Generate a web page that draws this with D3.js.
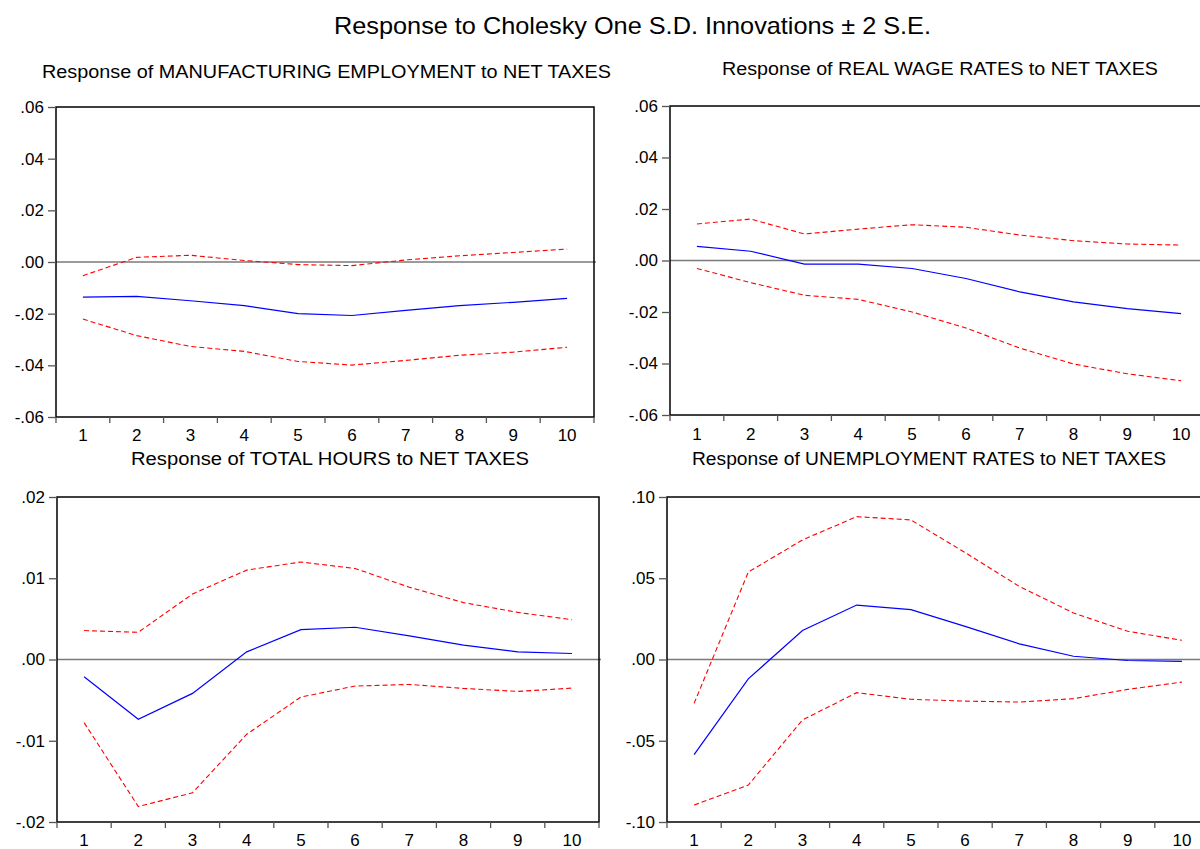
<!DOCTYPE html>
<html>
<head>
<meta charset="utf-8">
<script src="https://cdn.jsdelivr.net/npm/d3@7"></script>
<style>
  html, body { margin: 0; padding: 0; background: #fff; }
  svg { display: block; font-family: "Liberation Sans", Arial, sans-serif; }
</style>
</head>
<body>
<svg id="chart" width="1200" height="849"></svg>
<script>
// Impulse response horizons
const periods = [1, 2, 3, 4, 5, 6, 7, 8, 9, 10];

// Response of MANUFACTURING EMPLOYMENT to NET TAXES
const mfgResp  = [-0.0136, -0.0133, -0.0150, -0.0169, -0.0200, -0.0207, -0.0187, -0.0169, -0.0156, -0.0141];
const mfgUpper = [-0.0053, 0.0018, 0.0026, 0.0006, -0.0010, -0.0014, 0.0008, 0.0024, 0.0037, 0.0050];
const mfgLower = [-0.0221, -0.0285, -0.0327, -0.0346, -0.0385, -0.0399, -0.0381, -0.0361, -0.0349, -0.0330];

// Response of REAL WAGE RATES to NET TAXES
const wageResp  = [0.0055, 0.0036, -0.0014, -0.0014, -0.0031, -0.0070, -0.0122, -0.0161, -0.0187, -0.0206];
const wageUpper = [0.0142, 0.0161, 0.0103, 0.0122, 0.0139, 0.0129, 0.0099, 0.0077, 0.0064, 0.0060];
const wageLower = [-0.0031, -0.0086, -0.0135, -0.0151, -0.0200, -0.0262, -0.0340, -0.0402, -0.0440, -0.0467];

// Response of TOTAL HOURS to NET TAXES
const hoursResp  = [-0.00213, -0.00736, -0.00417, 0.00094, 0.00368, 0.00397, 0.0029, 0.00176, 0.00094, 0.00074];
const hoursUpper = [0.00356, 0.00335, 0.00806, 0.0110, 0.0120, 0.0112, 0.0089, 0.0070, 0.0058, 0.0049];
const hoursLower = [-0.00777, -0.0181, -0.0164, -0.0092, -0.00462, -0.00327, -0.00307, -0.00356, -0.00393, -0.00352];

// Response of UNEMPLOYMENT RATES to NET TAXES
const unempResp  = [-0.0585, -0.0119, 0.0178, 0.0335, 0.0307, 0.0204, 0.0096, 0.0020, -0.0006, -0.0012];
const unempUpper = [-0.0270, 0.0538, 0.0736, 0.0879, 0.0859, 0.0658, 0.0450, 0.0286, 0.0174, 0.0118];
const unempLower = [-0.0896, -0.0773, -0.0372, -0.0204, -0.0245, -0.0256, -0.0262, -0.0241, -0.0184, -0.0139];

// Axis tick values per panel
const ticksSmall = [-0.06, -0.04, -0.02, 0, 0.02, 0.04, 0.06];
const ticksHours = [-0.02, -0.01, 0, 0.01, 0.02];
const ticksUnemp = [-0.10, -0.05, 0, 0.05, 0.10];

const mainTitle = "Response to Cholesky One S.D. Innovations \u00B1 2 S.E.";
const titles = [
  "Response of MANUFACTURING EMPLOYMENT to NET TAXES",
  "Response of REAL WAGE RATES to NET TAXES",
  "Response of TOTAL HOURS to NET TAXES",
  "Response of UNEMPLOYMENT RATES to NET TAXES"
];

const panels = [
  { title: titles[0], resp: mfgResp, upper: mfgUpper, lower: mfgLower, ticks: ticksSmall,
    box: { x0: 56, x1: 594, y0: 107, y1: 417 }, titleBox: { x: 42, w: 569, y: 78 }, labelY: 441 },
  { title: titles[1], resp: wageResp, upper: wageUpper, lower: wageLower, ticks: ticksSmall,
    box: { x0: 670, x1: 1208, y0: 106, y1: 415 }, titleBox: { x: 722, w: 436, y: 75 }, labelY: 440 },
  { title: titles[2], resp: hoursResp, upper: hoursUpper, lower: hoursLower, ticks: ticksHours,
    box: { x0: 57, x1: 599, y0: 497, y1: 822 }, titleBox: { x: 131, w: 398, y: 465 }, labelY: 846 },
  { title: titles[3], resp: unempResp, upper: unempUpper, lower: unempLower, ticks: ticksUnemp,
    box: { x0: 667, x1: 1209, y0: 497, y1: 822 }, titleBox: { x: 692, w: 474, y: 465 }, labelY: 846 }
];

const svg = d3.select("#chart");

// Tick labels in the ".06" / "-.06" style, with a plain hyphen for negatives
const fmt = v => d3.format(".2f")(Math.abs(v) < 1e-12 ? 0 : v)
  .replace("\u2212", "-")
  .replace(/^(-?)0\./, "$1.");

svg.append("text")
  .attr("x", 334).attr("y", 34)
  .attr("textLength", 597).attr("lengthAdjust", "spacingAndGlyphs")
  .attr("font-size", 24).attr("fill", "#000")
  .text(mainTitle);

panels.forEach(p => {
  const b = p.box;
  const x = d3.scaleBand().domain(periods).range([b.x0, b.x1]).padding(0);
  const y = d3.scaleLinear().domain([p.ticks[0], p.ticks[p.ticks.length - 1]]).range([b.y1, b.y0]);
  const g = svg.append("g");

  // panel title
  g.append("text")
    .attr("x", p.titleBox.x).attr("y", p.titleBox.y)
    .attr("textLength", p.titleBox.w).attr("lengthAdjust", "spacingAndGlyphs")
    .attr("font-size", 18).attr("fill", "#000")
    .text(p.title);

  // zero reference line
  g.append("line")
    .attr("x1", b.x0).attr("x2", b.x1 + 2)
    .attr("y1", y(0)).attr("y2", y(0))
    .attr("stroke", "#7a7a7a").attr("stroke-width", 1.5);

  const line = d3.line()
    .x((d, i) => x(periods[i]) + x.bandwidth() / 2)
    .y(d => y(d));

  g.append("path").datum(p.upper)
    .attr("d", line).attr("fill", "none")
    .attr("stroke", "#ff0000").attr("stroke-width", 1.1)
    .attr("stroke-dasharray", "5,3");
  g.append("path").datum(p.lower)
    .attr("d", line).attr("fill", "none")
    .attr("stroke", "#ff0000").attr("stroke-width", 1.1)
    .attr("stroke-dasharray", "5,3");
  g.append("path").datum(p.resp)
    .attr("d", line).attr("fill", "none")
    .attr("stroke", "#0000ff").attr("stroke-width", 1.2);

  // frame
  g.append("rect")
    .attr("x", b.x0).attr("y", b.y0)
    .attr("width", b.x1 - b.x0).attr("height", b.y1 - b.y0)
    .attr("fill", "none").attr("stroke", "#000").attr("stroke-width", 1.5);

  // y axis
  const yAxis = d3.axisLeft(y).tickValues(p.ticks).tickFormat(fmt).tickSize(8).tickPadding(4);
  const ya = g.append("g").attr("transform", `translate(${b.x0},0)`).call(yAxis);
  ya.select(".domain").remove();
  ya.selectAll(".tick line").attr("stroke", "#555").attr("stroke-width", 1.3);
  ya.selectAll(".tick text")
    .attr("font-size", 17).attr("fill", "#000")
    .attr("font-family", "'Liberation Sans', Arial, sans-serif");

  // x tick marks at category boundaries
  const bounds = periods.map(d => x(d)).concat([b.x1]);
  g.selectAll(".xtick").data(bounds).enter().append("line")
    .attr("x1", d => d).attr("x2", d => d)
    .attr("y1", b.y1).attr("y2", b.y1 + 6)
    .attr("stroke", "#555").attr("stroke-width", 1.3);

  // x labels centred in each category
  g.selectAll(".xlab").data(periods).enter().append("text")
    .attr("x", d => x(d) + x.bandwidth() / 2)
    .attr("y", p.labelY)
    .attr("text-anchor", "middle")
    .attr("font-size", 17).attr("fill", "#000")
    .text(d => d);
});
</script>
</body>
</html>
